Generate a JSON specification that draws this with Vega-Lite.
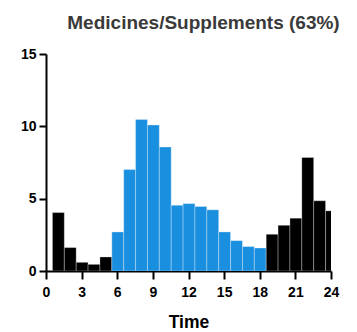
{
  "$schema": "https://vega.github.io/schema/vega-lite/v6.json",
  "autosize": "none",
  "padding": {"left": 46, "top": 54, "right": 26, "bottom": 61},
  "width": 285,
  "height": 217,
  "config": {
    "view": {"stroke": null},
    "font": "Liberation Sans"
  },
  "title": {
    "text": "Medicines/Supplements (63%)",
    "font": "Liberation Sans",
    "fontSize": 19,
    "fontWeight": "bold",
    "color": "#3a3a3a",
    "anchor": "middle",
    "frame": "group",
    "dx": 15,
    "baseline": "alphabetic",
    "offset": -1
  },
  "data": {
    "values": [
      {"hour": 1, "value": 4.04, "period": "night"},
      {"hour": 2, "value": 1.62, "period": "night"},
      {"hour": 3, "value": 0.6, "period": "night"},
      {"hour": 4, "value": 0.46, "period": "night"},
      {"hour": 5, "value": 0.97, "period": "night"},
      {"hour": 6, "value": 2.7, "period": "day"},
      {"hour": 7, "value": 7.02, "period": "day"},
      {"hour": 8, "value": 10.48, "period": "day"},
      {"hour": 9, "value": 10.09, "period": "day"},
      {"hour": 10, "value": 8.57, "period": "day"},
      {"hour": 11, "value": 4.55, "period": "day"},
      {"hour": 12, "value": 4.66, "period": "day"},
      {"hour": 13, "value": 4.46, "period": "day"},
      {"hour": 14, "value": 4.23, "period": "day"},
      {"hour": 15, "value": 2.7, "period": "day"},
      {"hour": 16, "value": 2.1, "period": "day"},
      {"hour": 17, "value": 1.69, "period": "day"},
      {"hour": 18, "value": 1.59, "period": "day"},
      {"hour": 19, "value": 2.54, "period": "night"},
      {"hour": 20, "value": 3.16, "period": "night"},
      {"hour": 21, "value": 3.65, "period": "night"},
      {"hour": 22, "value": 7.85, "period": "night"},
      {"hour": 23, "value": 4.85, "period": "night"},
      {"hour": 24, "value": 4.16, "period": "night"}
    ]
  },
  "mark": {"type": "bar", "clip": true, "binSpacing": 0, "stroke": "white", "strokeOpacity": 0.3, "strokeWidth": 1},
  "encoding": {
    "x": {
      "field": "hour",
      "type": "quantitative",
      "bin": {"anchor": 0.5, "step": 1, "extent": [0.5, 24.5], "nice": false},
      "scale": {"domain": [0, 24], "nice": false, "zero": false},
      "axis": {
        "values": [0, 3, 6, 9, 12, 15, 18, 21, 24],
        "title": "Time",
        "grid": false,
        "domainColor": "black",
        "domainWidth": 2,
        "tickColor": "black",
        "tickWidth": 2,
        "tickSize": 8,
        "labelPadding": 6,
        "labelFont": "Liberation Sans",
        "labelFontSize": 14,
        "labelFontWeight": "bold",
        "labelColor": "black",
        "labelFlush": false,
        "labelOverlap": false,
        "format": "d",
        "titleFont": "Liberation Sans",
        "titleFontSize": 17.5,
        "titleFontWeight": "bold",
        "titleColor": "black",
        "titlePadding": 14
      }
    },
    "y": {
      "field": "value",
      "type": "quantitative",
      "scale": {"domain": [0, 15], "nice": false},
      "axis": {
        "values": [0, 5, 10, 15],
        "title": null,
        "grid": false,
        "domainColor": "black",
        "domainWidth": 2,
        "tickColor": "black",
        "tickWidth": 2,
        "tickSize": 7,
        "labelPadding": 3,
        "labelFont": "Liberation Sans",
        "labelFontSize": 14,
        "labelFontWeight": "bold",
        "labelColor": "black",
        "labelFlush": false
      }
    },
    "color": {
      "field": "period",
      "type": "nominal",
      "scale": {"domain": ["night", "day"], "range": ["#000000", "#1b8fdf"]},
      "legend": null
    }
  }
}
